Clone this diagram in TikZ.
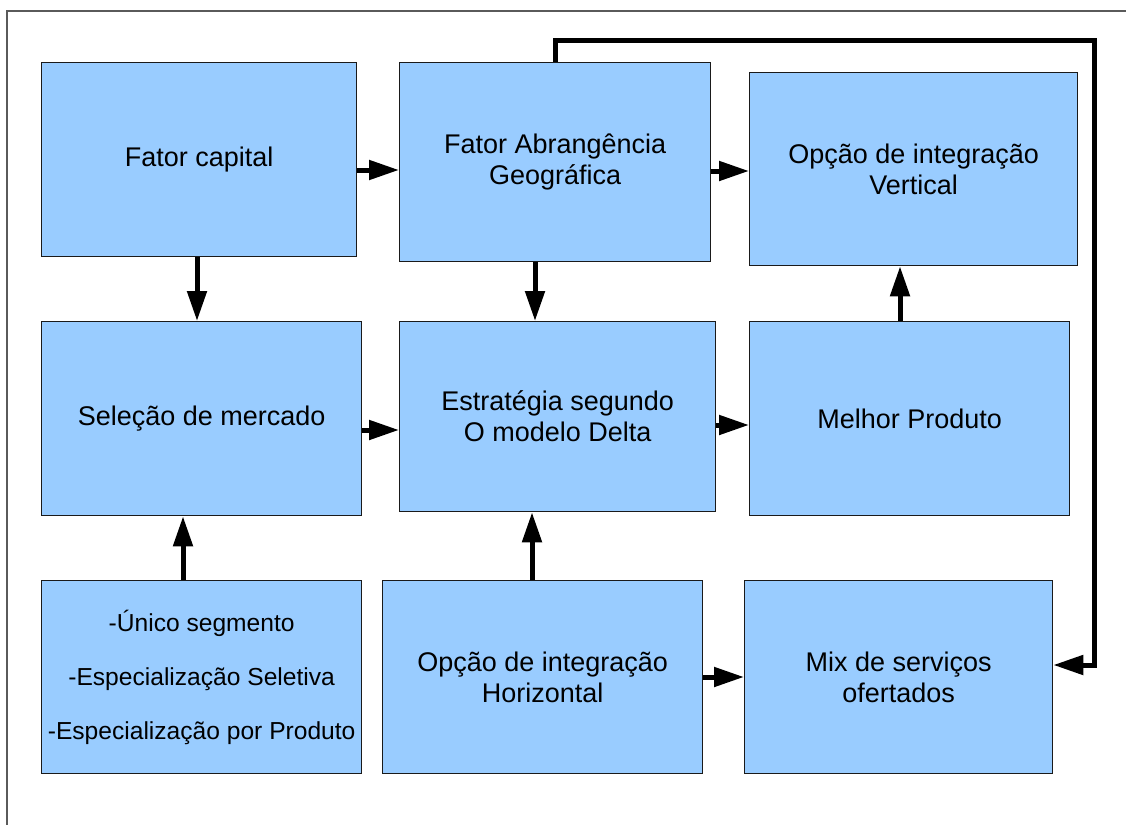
\documentclass[tikz,border=0pt]{standalone}
\usepackage{fontspec}
\setmainfont{Liberation Sans}
\usetikzlibrary{arrows.meta}
\definecolor{boxfill}{HTML}{99CCFF}
\definecolor{boxline}{HTML}{1A1A1A}
\definecolor{framec}{HTML}{5A5A5A}
\tikzset{
  box/.style={draw=boxline, fill=boxfill, line width=1.3pt, inner sep=0pt,
    anchor=north west, align=center, font=\fontsize{27}{31}\selectfont},
  arr/.style={line width=5pt, -{Triangle[length=30pt,width=19pt]}},
}
\begin{document}
\begin{tikzpicture}[x=1pt,y=-1pt]
\useasboundingbox (0,0) rectangle (1126,824);
\fill[white] (0,0) rectangle (1126,824);
\draw[framec, line width=1.5pt] (1130,11) -- (7,11) -- (7,830);

\node[box, minimum width=315pt, minimum height=194pt] (cap) at (41,62) {Fator capital};
\node[box, minimum width=311pt, minimum height=199pt] (abr) at (399,62) {Fator Abrangência\\Geográfica};
\node[box, minimum width=328pt, minimum height=193pt] (ver) at (749,72) {Opção de integração\\Vertical};
\node[box, minimum width=320pt, minimum height=194pt] (sel) at (41,321) {Seleção de mercado};
\node[box, minimum width=316pt, minimum height=190pt] (est) at (399,321) {Estratégia segundo\\O modelo Delta};
\node[box, minimum width=320pt, minimum height=194pt] (mel) at (749,321) {Melhor Produto};
\node[box, minimum width=320pt, minimum height=193pt, font=\fontsize{24.6}{54}\selectfont] (lst) at (41,580) {-Único segmento\\-Especialização Seletiva\\-Especialização por Produto};
\node[box, minimum width=320pt, minimum height=193pt] (hor) at (382,580) {Opção de integração\\Horizontal};
\node[box, minimum width=308pt, minimum height=193pt] (mix) at (744,580) {Mix de serviços\\ofertados};

\draw[arr] (cap.east |- 0,170) -- (abr.west |- 0,170);
\draw[arr] (abr.east |- 0,171) -- (ver.west |- 0,171);
\draw[arr] (cap.south -| 197,0) -- (sel.north -| 197,0);
\draw[arr] (abr.south -| 535,0) -- (est.north -| 535,0);
\draw[arr] (mel.north -| 900,0) -- (ver.south -| 900,0);
\draw[arr] (sel.east |- 0,430) -- (est.west |- 0,430);
\draw[arr] (est.east |- 0,425) -- (mel.west |- 0,425);
\draw[arr] (lst.north -| 183,0) -- (sel.south -| 183,0);
\draw[arr] (hor.north -| 532,0) -- (est.south -| 532,0);
\draw[arr] (hor.east |- 0,677) -- (mix.west |- 0,677);
\coordinate (corner) at (1094,41);
\draw[arr, line join=miter] (abr.north -| 555,0) |- (corner) |- (mix.east |- 0,665);
\end{tikzpicture}
\end{document}
